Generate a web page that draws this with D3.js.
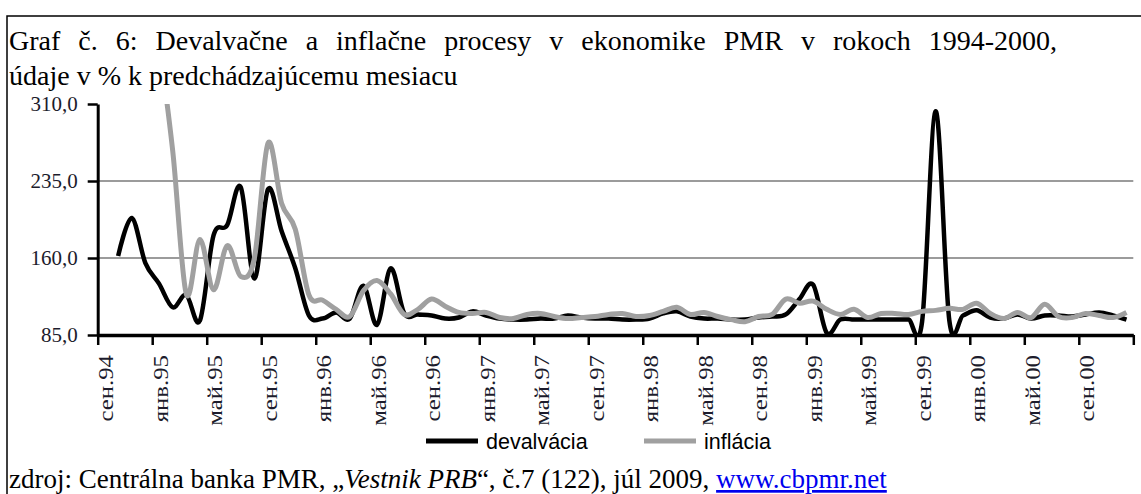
<!DOCTYPE html>
<html>
<head>
<meta charset="utf-8">
<script src="https://cdn.jsdelivr.net/npm/d3@7"></script>
<style>
  body { margin: 0; background: #fff; }
  svg { display: block; }
</style>
</head>
<body>
<div id="chart"></div>
<script>
// Month labels shown on the x axis (every 4th month, starting сен.94)
const tickLabels = [
  "сен.94", "янв.95", "май.95", "сен.95", "янв.96", "май.96", "сен.96",
  "янв.97", "май.97", "сен.97", "янв.98", "май.98", "сен.98", "янв.99",
  "май.99", "сен.99", "янв.00", "май.00", "сен.00"
];

// Monthly values, сен.94 .. дек.00 (76 months), % to previous month
const devalvacia = [
  null, 162, 199, 155, 135, 112, 124, 99, 182, 192,
  229, 140, 227, 186, 150, 104, 101, 107, 101, 133,
  95, 150, 106, 105, 104, 101, 102, 108, 104, 101,
  100, 100, 101, 101, 104, 102, 101, 101, 100, 100,
  101, 106, 108, 103, 101, 101, 100, 100, 102, 103,
  105, 120, 134, 87, 100, 100, 100, 100, 100, 100,
  98, 303, 99, 104, 109, 102, 101, 105, 101, 104,
  104, 103, 105, 107, 104, 100
];

const inflacia = [
  420, 390, 360, 380, 360, 265, 125, 178, 129, 172,
  142, 160, 272, 213, 188, 124, 119, 110, 103, 128,
  138, 125, 105, 110, 120, 113, 107, 106, 107, 102,
  101, 105, 106, 103, 101, 102, 103, 105, 106, 103,
  104, 108, 112, 105, 107, 103, 100, 98, 103, 105,
  120, 116, 118, 110, 105, 110, 102, 106, 106, 105,
  108, 109, 111, 110, 116, 106, 101, 107, 102, 115,
  103, 102, 106, 104, 102, 107
];

const yTicks = [85, 160, 235, 310];
const gridValues = [160, 235];

const width = 1141, height = 494;
const plot = { left: 97.7, right: 1133.3, top: 104, bottom: 335 };

const svg = d3.select("#chart").append("svg")
  .attr("width", width)
  .attr("height", height)
  .style("font-family", "'Liberation Serif', 'Times New Roman', serif");

svg.append("rect").attr("width", width).attr("height", height).attr("fill", "#fff");

// Frame (only top and left edges are inside the picture)
svg.append("path")
  .attr("d", `M7,494 V16 H1141`)
  .attr("fill", "none")
  .attr("stroke", "#000")
  .attr("stroke-width", 1.5);

// Title (first line is justified in the source document)
const title = svg.append("text").attr("font-size", 28).attr("fill", "#000");
const t1 = title.append("tspan").attr("x", 9).attr("y", 50)
  .text("Graf č. 6: Devalvačne a inflačne procesy v ekonomike PMR v rokoch 1994-2000,");
title.append("tspan").attr("x", 9).attr("y", 85)
  .text("údaje v % k predchádzajúcemu mesiacu");
{
  const natural = t1.node().getComputedTextLength();
  const spaces = t1.text().split(" ").length - 1;
  t1.attr("word-spacing", (1048 - natural) / spaces);
}

// Scales
const months = d3.range(devalvacia.length);
const x = d3.scaleBand().domain(months).range([plot.left, plot.right]).paddingInner(0);
const xb = d3.scaleLinear().domain([0, months.length]).range([plot.left, plot.right]);
const y = d3.scaleLinear().domain([85, 310]).range([plot.bottom, plot.top]);

// Gridlines
svg.append("g").selectAll("line").data(gridValues).join("line")
  .attr("x1", plot.left).attr("x2", plot.right)
  .attr("y1", d => y(d)).attr("y2", d => y(d))
  .attr("stroke", "#7a7a7a").attr("stroke-width", 1.5);

// Y axis
const yAxis = svg.append("g")
  .attr("transform", `translate(${plot.left},0)`)
  .call(d3.axisLeft(y).tickValues(yTicks).tickSize(10).tickSizeOuter(0).tickPadding(10)
    .tickFormat(d => d3.format(".1f")(d).replace(".", ",")));
yAxis.select(".domain").attr("stroke", "#000").attr("stroke-width", 3);
yAxis.selectAll(".tick line").attr("stroke", "#000").attr("stroke-width", 2.5);
yAxis.selectAll(".tick text")
  .attr("font-family", "'Liberation Serif', serif")
  .attr("font-size", 21).attr("fill", "#1c1c2c");

// X axis (tick marks between month groups)
const xAxis = svg.append("g")
  .attr("transform", `translate(0,${plot.bottom})`)
  .call(d3.axisBottom(xb).tickValues(d3.range(0, months.length + 1, 4))
    .tickSize(10).tickSizeOuter(0).tickFormat(""));
xAxis.select(".domain").attr("stroke", "#000").attr("stroke-width", 3.5);
xAxis.selectAll(".tick line").attr("stroke", "#000").attr("stroke-width", 2.5);

// X labels (rotated, slightly stretched along the text like the original)
svg.append("g").selectAll("text").data(tickLabels).join("text")
  .attr("transform", (d, i) => `translate(${x(i * 4) + x.bandwidth() / 2 + 8.5},355) rotate(-90) scale(1.18,1)`)
  .attr("text-anchor", "end")
  .attr("font-size", 21)
  .attr("fill", "#1c1c2c")
  .text(d => d);

// Lines
svg.append("defs").append("clipPath").attr("id", "clip")
  .append("rect")
  .attr("x", plot.left).attr("y", plot.top)
  .attr("width", plot.right - plot.left).attr("height", plot.bottom - plot.top);

const line = d3.line()
  .defined(d => d != null)
  .x((d, i) => x(i) + x.bandwidth() / 2)
  .y(d => y(d))
  .curve(d3.curveCatmullRom.alpha(0));

const lines = svg.append("g").attr("clip-path", "url(#clip)");
lines.append("path").datum(devalvacia)
  .attr("d", line)
  .attr("fill", "none").attr("stroke", "#000").attr("stroke-width", 4.5)
  .attr("stroke-linejoin", "round");
lines.append("path").datum(inflacia)
  .attr("d", line)
  .attr("fill", "none").attr("stroke", "#a0a0a0").attr("stroke-width", 5)
  .attr("stroke-linejoin", "round");

// Legend
const legend = svg.append("g").attr("font-family", "'Liberation Sans', Arial, sans-serif")
  .attr("font-size", 21.5);
const legendItems = [
  { name: "devalvácia", color: "#000", x: 426 },
  { name: "inflácia", color: "#a0a0a0", x: 644 }
];
legendItems.forEach(it => {
  legend.append("line")
    .attr("x1", it.x).attr("x2", it.x + 52)
    .attr("y1", 441).attr("y2", 441)
    .attr("stroke", it.color).attr("stroke-width", 5);
  legend.append("text")
    .attr("x", it.x + 60).attr("y", 449)
    .attr("fill", "#000")
    .text(it.name);
});

// Source line
const src = svg.append("text").attr("x", 9).attr("y", 488).attr("font-size", 27).attr("fill", "#000");
src.append("tspan").text("zdroj: Centrálna banka PMR, „");
src.append("tspan").attr("font-style", "italic").text("Vestnik PRB");
src.append("tspan").text("“, č.7 (122), júl 2009, ");
src.append("tspan").attr("fill", "#0000ee").attr("text-decoration", "underline").text("www.cbpmr.net");
</script>
</body>
</html>
